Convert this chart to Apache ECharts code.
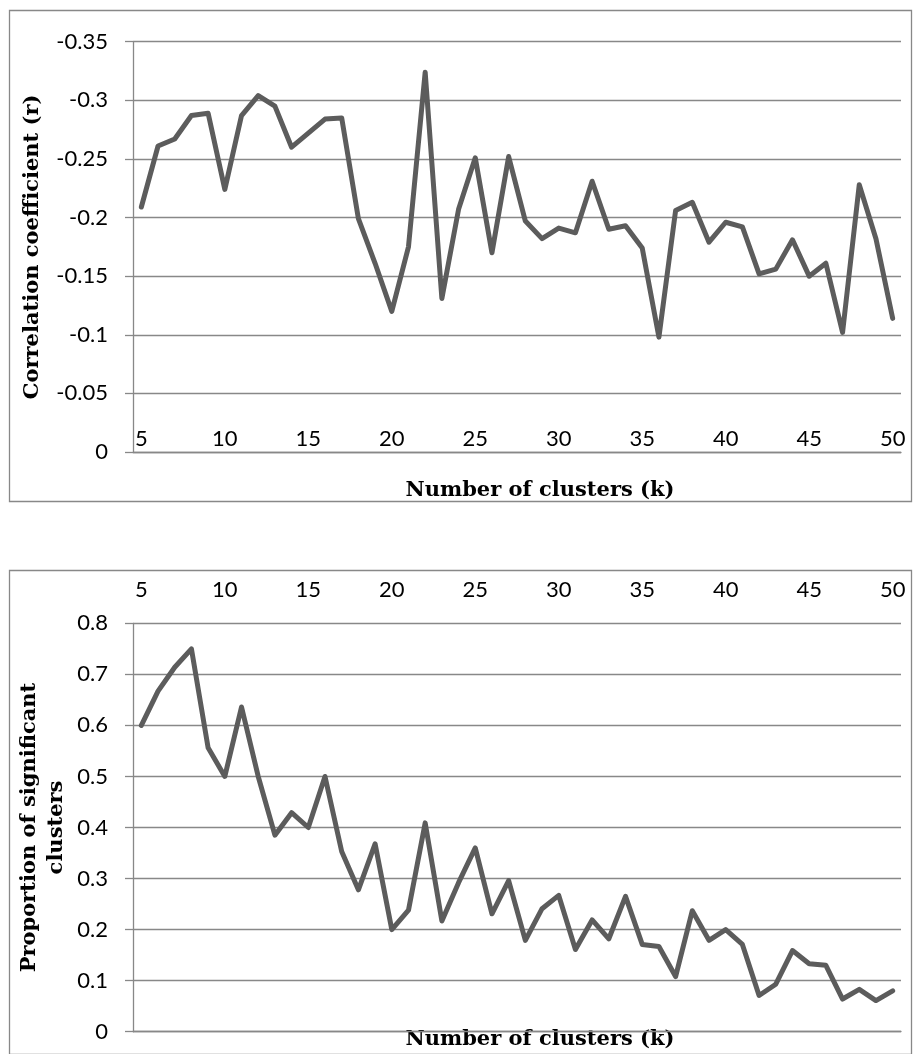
<!DOCTYPE html>
<html>
<head>
<meta charset="utf-8">
<script src="https://cdn.jsdelivr.net/npm/echarts@6/dist/echarts.min.js"></script>
<style>
html,body{margin:0;padding:0;background:#fff;}
#c{width:915px;height:1054px;}
</style>
</head>
<body>
<div id="c"></div>
<script>
var categories = ['5','6','7','8','9','10','11','12','13','14','15','16','17','18','19','20','21','22','23','24','25','26','27','28','29','30','31','32','33','34','35','36','37','38','39','40','41','42','43','44','45','46','47','48','49','50'];
var correlation = [-0.209,-0.261,-0.267,-0.287,-0.289,-0.224,-0.287,-0.304,-0.295,-0.260,-0.272,-0.284,-0.285,-0.199,-0.161,-0.120,-0.175,-0.324,-0.131,-0.207,-0.251,-0.170,-0.252,-0.197,-0.182,-0.191,-0.187,-0.231,-0.190,-0.193,-0.174,-0.098,-0.206,-0.213,-0.179,-0.196,-0.192,-0.152,-0.156,-0.181,-0.150,-0.161,-0.102,-0.228,-0.182,-0.114];
var proportion = [0.6,0.667,0.714,0.75,0.556,0.5,0.636,0.5,0.385,0.429,0.4,0.5,0.353,0.278,0.368,0.2,0.238,0.409,0.217,0.292,0.36,0.231,0.296,0.179,0.241,0.267,0.161,0.219,0.182,0.265,0.171,0.167,0.108,0.237,0.179,0.2,0.171,0.071,0.093,0.159,0.133,0.13,0.064,0.083,0.061,0.08];
var xTitle = 'Number of clusters (k)';
var yTitleTop = 'Correlation coefficient (r)';
var yTitleBottom = 'Proportion of significant\nclusters';

var AX = '#888888';
var LINE = '#5c5c5c';
var LBL = {fontFamily:'Lato', fontSize:22, color:'#000'};
var TTL = {fontFamily:'DejaVu Serif', fontWeight:'bold', fontSize:21, color:'#000'};

var chart = echarts.init(document.getElementById('c'), null, {renderer:'canvas'});
chart.setOption({
  animation:false,
  backgroundColor:'#fff',
  graphic:[
    {type:'rect', shape:{x:9.5,y:10.5,width:902,height:491}, style:{fill:null, stroke:AX, lineWidth:1.3}, z:-1},
    {type:'rect', shape:{x:9.5,y:570.5,width:902,height:484}, style:{fill:null, stroke:AX, lineWidth:1.3}, z:-1}
  ],
  grid:[
    {left:133, top:41.7, width:768, height:410.3, containLabel:false, outerBoundsMode:'none'},
    {left:133, top:623.3, width:768, height:408.4, containLabel:false, outerBoundsMode:'none'}
  ],
  xAxis:[
    {gridIndex:0, type:'category', data:categories, boundaryGap:true, position:'bottom',
     axisLine:{lineStyle:{color:AX, width:1.3}},
     axisTick:{inside:true, interval:4, length:7, lineStyle:{color:AX, width:1.3}},
     axisLabel:Object.assign({inside:true, interval:4, margin:2}, LBL),
     name:xTitle, nameLocation:'middle', nameGap:28, nameMoveOverlap:false,
     nameTextStyle:Object.assign({padding:[0,0,0,46]}, TTL)},
    {gridIndex:1, type:'category', data:categories, boundaryGap:true, position:'bottom',
     axisLine:{lineStyle:{color:AX, width:1.3}},
     axisTick:{inside:true, interval:4, length:7, lineStyle:{color:AX, width:1.3}},
     axisLabel:{show:false},
     name:xTitle, nameLocation:'middle', nameGap:-3, nameMoveOverlap:false,
     nameTextStyle:Object.assign({padding:[0,0,0,46]}, TTL)},
    {gridIndex:1, type:'category', data:categories, boundaryGap:true, position:'top',
     axisLine:{show:false}, axisTick:{show:false},
     axisLabel:Object.assign({interval:4, margin:22}, LBL)}
  ],
  yAxis:[
    {gridIndex:0, type:'value', inverse:true, min:-0.35, max:0, interval:0.05,
     axisLine:{show:true, lineStyle:{color:AX, width:1.3}},
     axisTick:{show:true, length:8, lineStyle:{color:AX, width:1.3}},
     splitLine:{show:true, lineStyle:{color:AX, width:1.3}},
     axisLabel:Object.assign({margin:25}, LBL),
     name:yTitleTop, nameLocation:'middle', nameGap:90, nameRotate:90, nameMoveOverlap:false,
     nameTextStyle:TTL},
    {gridIndex:1, type:'value', min:0, max:0.8, interval:0.1,
     axisLine:{show:true, lineStyle:{color:AX, width:1.3}},
     axisTick:{show:true, length:8, lineStyle:{color:AX, width:1.3}},
     splitLine:{show:true, lineStyle:{color:AX, width:1.3}},
     axisLabel:Object.assign({margin:25}, LBL),
     name:yTitleBottom, nameLocation:'middle', nameGap:63, nameRotate:90, nameMoveOverlap:false,
     nameTextStyle:Object.assign({lineHeight:27}, TTL)}
  ],
  series:[
    {type:'line', xAxisIndex:0, yAxisIndex:0, data:correlation, symbol:'none',
     lineStyle:{color:LINE, width:5, join:'round', cap:'round'}},
    {type:'line', xAxisIndex:1, yAxisIndex:1, data:proportion, symbol:'none',
     lineStyle:{color:LINE, width:5, join:'round', cap:'round'}}
  ]
});
</script>
</body>
</html>
